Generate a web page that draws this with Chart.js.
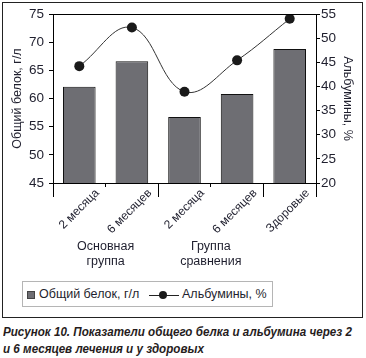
<!DOCTYPE html>
<html>
<head>
<meta charset="utf-8">
<script src="https://cdn.jsdelivr.net/npm/chart.js@4.4.0/dist/chart.umd.min.js"></script>
<style>
  html,body{margin:0;padding:0;background:#fff;}
  #wrap{position:relative;width:366px;height:358px;overflow:hidden;}
  #frame{position:absolute;left:2px;top:2px;width:361px;height:316px;border:1px solid #222;box-sizing:border-box;}
  #cv{position:absolute;left:0;top:0;}
  #legend{position:absolute;left:22px;top:281px;width:251px;height:26px;border:1px solid #b5b5b5;box-sizing:border-box;
    font:12.5px "Liberation Sans",Arial,sans-serif;color:#1f1f2e;}
  .item{position:absolute;top:4px;white-space:nowrap;line-height:16px;}
  .sq{position:absolute;width:6px;height:6px;background:#6e6e73;border:1px solid #444;}
  .ln{position:absolute;height:1px;background:#222;}
  .dot{position:absolute;width:8px;height:8px;border-radius:50%;background:#1a1a1a;}
  #caption{position:absolute;left:3px;top:323px;font:italic bold 13.5px "Liberation Sans",Arial,sans-serif;
    line-height:17px;color:#261c1c;white-space:nowrap;transform-origin:0 0;}
</style>
</head>
<body>
<div id="wrap">
  <div id="frame"></div>
  <canvas id="cv" width="366" height="275"></canvas>
  <div id="legend"></div>
  <div id="caption"></div>
</div>
<script>
const categories = ["2 месяца", "6 месяцев", "2 месяца", "6 месяцев", "Здоровые"];
const groupLabels = [["Основная", "группа"], ["Группа", "сравнения"]];
const groupCenters = [0.5, 2.5];
const groupBoundaries = [-0.5, 1.5, 3.5, 4.5];
const proteinValues = [62.1, 66.6, 56.7, 60.8, 68.8];
const albuminValues = [44.2, 52.2, 38.9, 45.4, 54.0];
const proteinLabel = "Общий белок, г/л";
const albuminLabel = "Альбумины, %";
const leftTicks = {min: 45, max: 75, step: 5};
const rightTicks = {min: 20, max: 55, step: 5};
const captionLines = ["Рисунок 10. Показатели общего белка и альбумина через 2", "и 6 месяцев лечения и у здоровых"];

const TXT = '#1f1f2e';
const FONT = '"Liberation Sans", Arial, sans-serif';

const extras = {
  id: 'extras',
  afterDraw(chart) {
    const ctx = chart.ctx, a = chart.chartArea, x = chart.scales.x;
    ctx.save();
    ctx.strokeStyle = '#000';
    ctx.lineWidth = 1;
    ctx.beginPath();
    ctx.moveTo(a.left, a.top + 0.5);
    ctx.lineTo(a.right, a.top + 0.5);
    groupBoundaries.forEach(v => {
      const px = Math.round(x.getPixelForValue(v)) + 0.5;
      ctx.moveTo(px, a.bottom);
      ctx.lineTo(px, a.bottom + 14);
    });
    ctx.stroke();
    ctx.fillStyle = TXT;
    ctx.font = '12.5px ' + FONT;
    ctx.textAlign = 'center';
    ctx.textBaseline = 'alphabetic';
    groupLabels.forEach((lines, i) => {
      const px = x.getPixelForValue(groupCenters[i]);
      lines.forEach((t, j) => ctx.fillText(t, px, 250 + j * 15));
    });
    ctx.restore();
  }
};

new Chart(document.getElementById('cv'), {
  data: {
    labels: categories,
    datasets: [
      {
        type: 'line', label: albuminLabel, data: albuminValues, yAxisID: 'y2',
        borderColor: '#333', borderWidth: 1, tension: 0.4,
        pointRadius: 5, pointBackgroundColor: '#1a1a1a', pointBorderColor: '#1a1a1a', pointBorderWidth: 0,
        order: 0
      },
      {
        type: 'bar', label: proteinLabel, data: proteinValues, yAxisID: 'y',
        backgroundColor: '#6e6e73', borderColor: '#111', borderWidth: 1,
        barPercentage: 0.62, categoryPercentage: 1, order: 1
      }
    ]
  },
  options: {
    responsive: false, animation: false,
    layout: {padding: {top: 14, left: 0, right: 0, bottom: 0}},
    plugins: {legend: {display: false}, tooltip: {enabled: false}},
    scales: {
      x: {
        offset: true,
        grid: {offset: true, drawOnChartArea: false, tickLength: 4, color: '#000'},
        border: {display: true, color: '#000'},
        ticks: {autoSkip: false, maxRotation: 45, minRotation: 45, labelOffset: 18, padding: -1,
          color: TXT, font: {family: FONT, size: 12}},
        afterFit: s => { s.height = 92; }
      },
      y: {
        position: 'left', min: leftTicks.min, max: leftTicks.max,
        grid: {drawOnChartArea: false, tickLength: 4, color: '#000'},
        border: {display: true, color: '#000'},
        ticks: {stepSize: leftTicks.step, padding: 5, color: TXT, font: {family: FONT, size: 13.5}},
        title: {display: true, text: proteinLabel, color: TXT, font: {family: FONT, size: 12.5}, padding: {top: 10, bottom: 0}},
        afterFit: s => { s.width = 53; }
      },
      y2: {
        position: 'right', min: rightTicks.min, max: rightTicks.max,
        grid: {drawOnChartArea: false, tickLength: 4, color: '#000'},
        border: {display: true, color: '#000'},
        ticks: {stepSize: rightTicks.step, padding: 1, color: TXT, font: {family: FONT, size: 13.5}},
        title: {display: true, text: albuminLabel, color: TXT, font: {family: FONT, size: 12.5}, padding: {top: 11, bottom: 0}},
        afterFit: s => { s.width = 50; }
      }
    }
  },
  plugins: [extras]
});

// HTML legend built from dataset labels
const lg = document.getElementById('legend');
lg.innerHTML =
  '<span class="sq" style="left:4px;top:9px"></span>' +
  '<span class="item" style="left:16px">' + proteinLabel + '</span>' +
  '<span class="ln" style="left:126px;top:13px;width:30px"></span>' +
  '<span class="dot" style="left:136px;top:9px"></span>' +
  '<span class="item" style="left:159px">' + albuminLabel + '</span>';
const cap = document.getElementById('caption');
cap.innerHTML = captionLines.join('<br>');
const w = cap.scrollWidth;
if (w > 0) cap.style.transform = 'scaleX(' + (349 / w) + ')';
</script>
</body>
</html>
